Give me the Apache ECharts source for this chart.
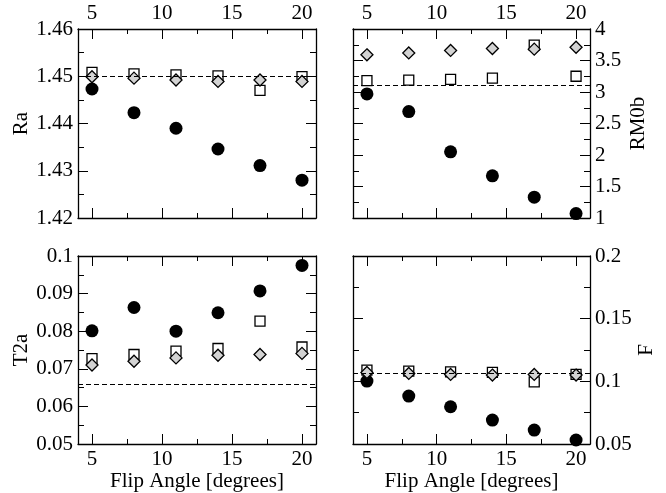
<!DOCTYPE html>
<html>
<head>
<meta charset="utf-8">
<script src="https://cdn.jsdelivr.net/npm/echarts@6/dist/echarts.min.js"></script>
<style>
  html, body { margin: 0; padding: 0; background: #fff; }
  #main { width: 666px; height: 493px; }
</style>
</head>
<body>
<div id="main"></div>
<script>
// flip angles (x values)
const flip = [5, 8, 11, 14, 17, 20];
const xTicks = [5, 10, 15, 20];
const xMinorTicks = [7.5, 12.5, 17.5];

// Ra
const raCircle = [1.4473, 1.4423, 1.4390, 1.4346, 1.4311, 1.4280];
const raSquare = [1.4508, 1.4505, 1.4503, 1.4501, 1.4470, 1.4499];
const raDiamond = [1.4499, 1.4496, 1.4492, 1.4489, 1.4492, 1.4489];
const raRef = 1.45;

// RM0b
const rmCircle = [2.97, 2.69, 2.05, 1.67, 1.33, 1.07];
const rmSquare = [3.18, 3.19, 3.20, 3.22, 3.745, 3.25];
const rmDiamond = [3.59, 3.62, 3.66, 3.69, 3.68, 3.71];
const rmRef = 3.10;

// T2a
const t2Circle = [0.0801, 0.0863, 0.0800, 0.0849, 0.0907, 0.0975];
const t2Square = [0.0727, 0.0738, 0.0747, 0.0754, 0.0827, 0.0758];
const t2Diamond = [0.0710, 0.0720, 0.0729, 0.0736, 0.0738, 0.0741];
const t2Ref = 0.066;

// F
const fCircle = [0.1002, 0.0882, 0.0797, 0.0691, 0.0611, 0.0532];
const fSquare = [0.1089, 0.1081, 0.1076, 0.1071, 0.0996, 0.1055];
const fDiamond = [0.1071, 0.1063, 0.1055, 0.1050, 0.1055, 0.1050];
const fRef = 0.1068;

const font = 'Liberation Serif';
const fontSize = 21;

const panels = [
  { left: 78, top: 29, width: 238, height: 189, name: 'Ra', side: 'left', xLab: 'top',
    min: 1.42, max: 1.46, step: 0.01, circle: raCircle, square: raSquare, diamond: raDiamond, ref: raRef },
  { left: 353, top: 29, width: 237, height: 189, name: 'RM0b', side: 'right', xLab: 'top',
    min: 1, max: 4, step: 0.5, circle: rmCircle, square: rmSquare, diamond: rmDiamond, ref: rmRef },
  { left: 78, top: 256, width: 238, height: 188, name: 'T2a', side: 'left', xLab: 'bottom',
    min: 0.05, max: 0.1, step: 0.01, circle: t2Circle, square: t2Square, diamond: t2Diamond, ref: t2Ref },
  { left: 353, top: 256, width: 237, height: 188, name: 'F', side: 'right', xLab: 'bottom',
    min: 0.05, max: 0.2, step: 0.05, circle: fCircle, square: fSquare, diamond: fDiamond, ref: fRef }
];

function pts(ys) {
  return flip.map((x, i) => [x, ys[i]]);
}

const grid = [], xAxis = [], yAxis = [], series = [];

panels.forEach((p, g) => {
  grid.push({ left: p.left, top: p.top, width: p.width, height: p.height, outerBoundsMode: 'none' });

  const firstX = xAxis.length;
  ['bottom', 'top'].forEach(pos => {
    const showLab = pos === p.xLab;
    // major ticks + labels
    xAxis.push({
      type: 'value', gridIndex: g, position: pos, min: 4, max: 21,
      axisLine: { onZero: false, lineStyle: { color: '#000', width: 1.3 } },
      axisTick: { inside: true, length: 10, customValues: xTicks, lineStyle: { color: '#000' } },
      axisLabel: { show: showLab, customValues: xTicks, margin: 5, color: '#000', fontFamily: font, fontSize: fontSize },
      splitLine: { show: false },
      name: (showLab && pos === 'bottom') ? 'Flip Angle [degrees]' : '',
      nameLocation: 'middle', nameGap: 26,
      nameTextStyle: { color: '#000', fontFamily: font, fontSize: fontSize }
    });
    // minor ticks
    xAxis.push({
      type: 'value', gridIndex: g, position: pos, min: 4, max: 21,
      axisLine: { show: false, onZero: false },
      axisTick: { inside: true, length: 5, customValues: xMinorTicks, lineStyle: { color: '#000' } },
      axisLabel: { show: false },
      splitLine: { show: false }
    });
  });

  const firstY = yAxis.length;
  ['left', 'right'].forEach(pos => {
    const showLab = pos === p.side;
    yAxis.push({
      type: 'value', gridIndex: g, position: pos, min: p.min, max: p.max, interval: p.step,
      axisLine: { onZero: false, lineStyle: { color: '#000', width: 1.3 } },
      axisTick: { inside: true, length: 10, lineStyle: { color: '#000' } },
      minorTick: { show: true, splitNumber: 2, length: 6, lineStyle: { color: '#000' } },
      axisLabel: { show: showLab, margin: 5, color: '#000', fontFamily: font, fontSize: fontSize },
      splitLine: { show: false },
      name: showLab ? p.name : '',
      nameLocation: 'middle', nameGap: pos === 'left' ? 45 : 38,
      nameTextStyle: { color: '#000', fontFamily: font, fontSize: fontSize }
    });
  });

  const base = { type: 'scatter', xAxisIndex: firstX, yAxisIndex: firstY, silent: true, animation: false };
  series.push(Object.assign({}, base, {
    data: pts(p.circle), symbol: 'circle', symbolSize: 13,
    itemStyle: { color: '#000', opacity: 1 },
    markLine: {
      silent: true, symbol: 'none', precision: 5, label: { show: false },
      lineStyle: { color: '#000', type: [5, 3], width: 1.2 },
      data: [{ yAxis: p.ref }]
    }
  }));
  series.push(Object.assign({}, base, {
    data: pts(p.square), symbol: 'rect', symbolSize: 10,
    itemStyle: { color: '#fff', borderColor: '#000', borderWidth: 1.3, opacity: 1 }
  }));
  series.push(Object.assign({}, base, {
    data: pts(p.diamond), symbol: 'diamond', symbolSize: 12,
    itemStyle: { color: '#d3d3d3', borderColor: '#000', borderWidth: 1.3, opacity: 1 }
  }));
});

const chart = echarts.init(document.getElementById('main'), null, { renderer: 'canvas' });
chart.setOption({
  backgroundColor: '#fff',
  animation: false,
  grid: grid,
  xAxis: xAxis,
  yAxis: yAxis,
  series: series
});
</script>
</body>
</html>
